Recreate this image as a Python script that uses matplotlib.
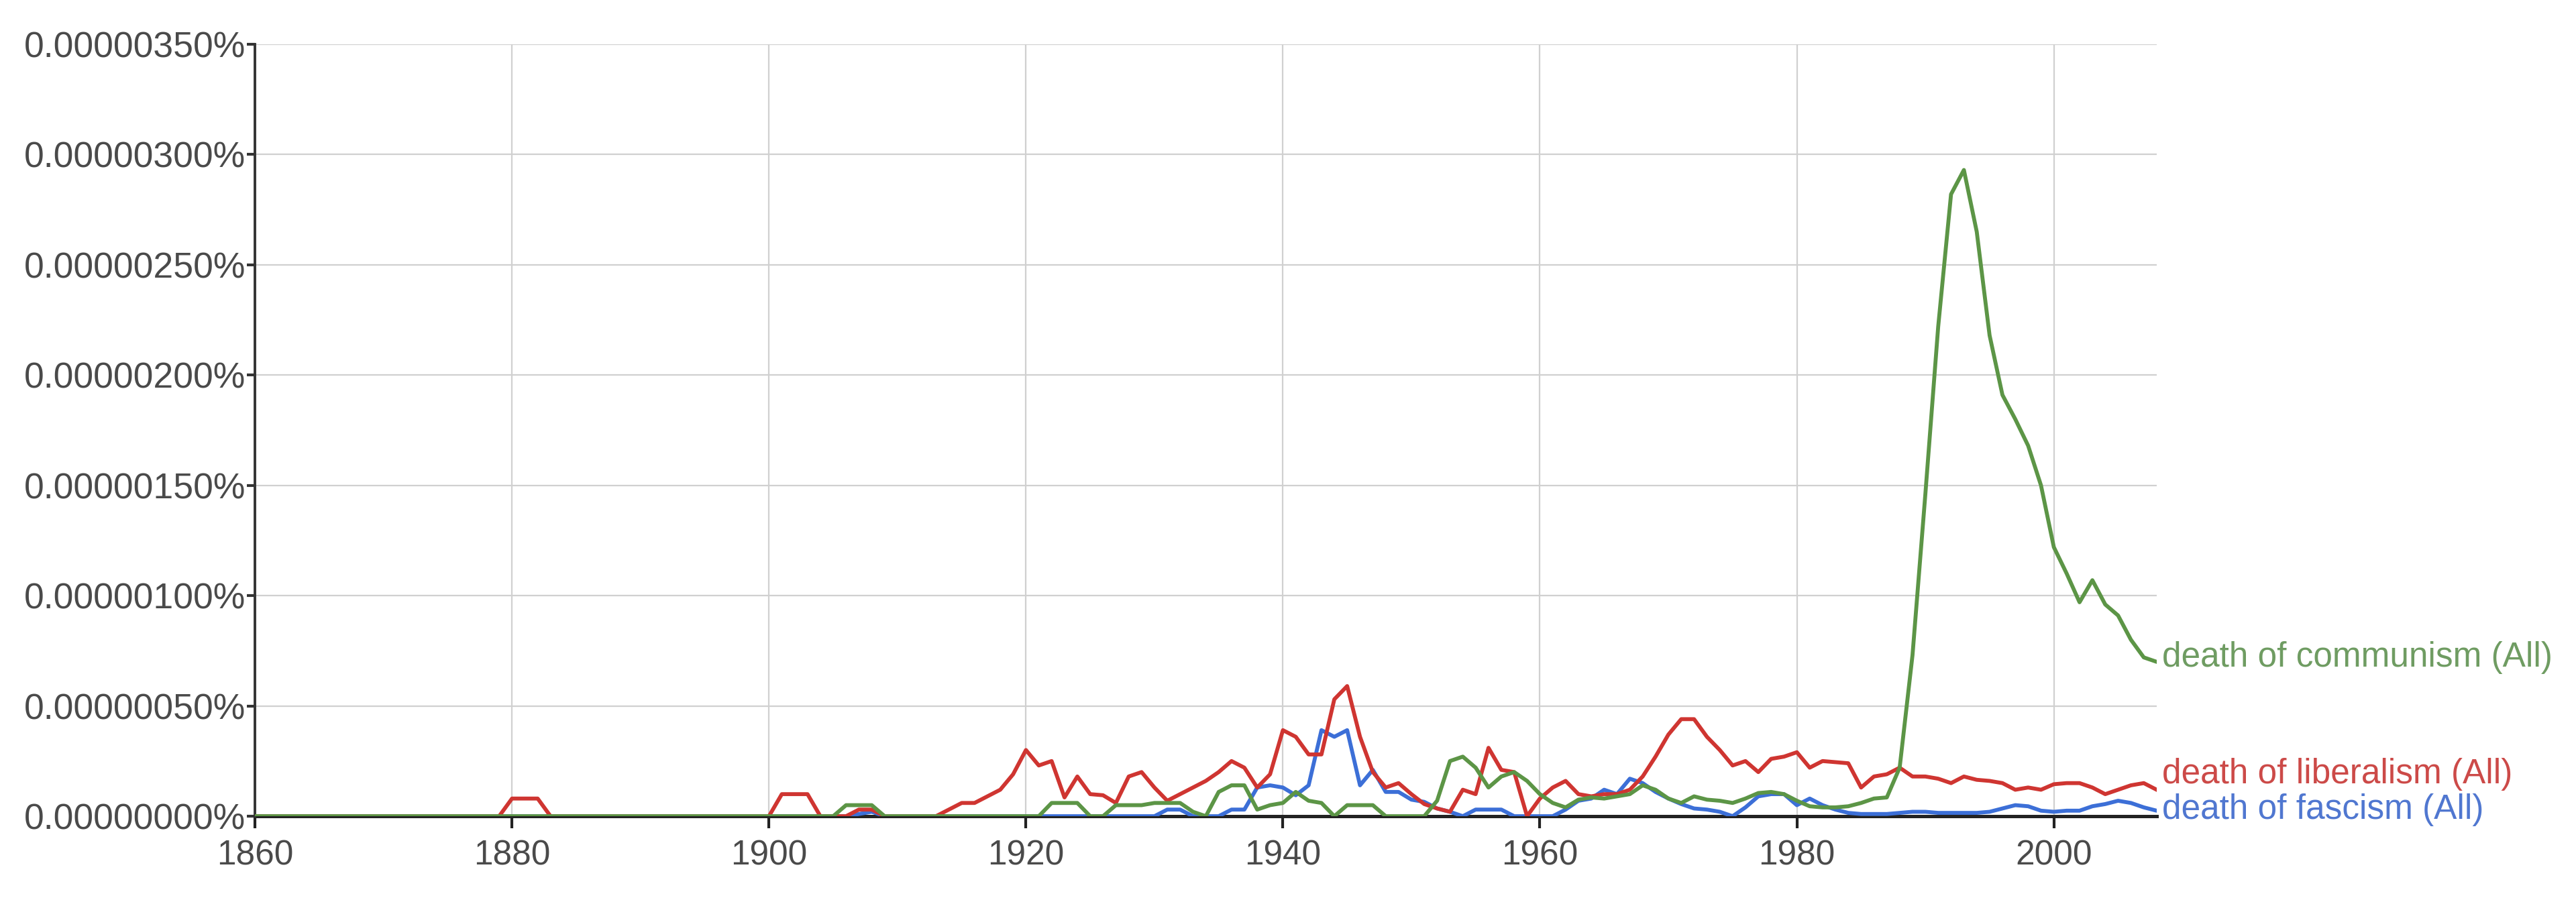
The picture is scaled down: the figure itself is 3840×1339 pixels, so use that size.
import matplotlib
matplotlib.use("Agg")
import matplotlib.pyplot as plt
from matplotlib.ticker import FuncFormatter

plt.rcParams["font.family"] = ["Liberation Sans", "DejaVu Sans"]

years = list(range(1860, 2009))

# values in units of 1e-6 percent, one per year 1860..2008
communism = [
    0, 0, 0, 0, 0, 0, 0, 0, 0, 0,
    0, 0, 0, 0, 0, 0, 0, 0, 0, 0,
    0, 0, 0, 0, 0, 0, 0, 0, 0, 0,
    0, 0, 0, 0, 0, 0, 0, 0, 0, 0,
    0, 0, 0, 0, 0, 0, 0.05, 0.05, 0.05, 0,
    0, 0, 0, 0, 0, 0, 0, 0, 0, 0,
    0, 0, 0.06, 0.06, 0.06, 0, 0, 0.05, 0.05, 0.05,
    0.06, 0.06, 0.06, 0.02, 0, 0.11, 0.14, 0.14, 0.03, 0.05,
    0.06, 0.11, 0.07, 0.06, 0, 0.05, 0.05, 0.05, 0, 0,
    0, 0, 0.07, 0.25, 0.27, 0.22, 0.13, 0.18, 0.20, 0.16,
    0.10, 0.06, 0.04, 0.075, 0.085, 0.08, 0.09, 0.10, 0.14, 0.12,
    0.08, 0.06, 0.09, 0.075, 0.07, 0.06, 0.08, 0.105, 0.11, 0.10,
    0.07, 0.045, 0.04, 0.04, 0.045, 0.06, 0.08, 0.085, 0.22, 0.73,
    1.46, 2.22, 2.82, 2.93, 2.65, 2.18, 1.91, 1.80, 1.68, 1.50,
    1.22, 1.10, 0.97, 1.07, 0.96, 0.91, 0.80, 0.72, 0.70,
]

liberalism = [
    0, 0, 0, 0, 0, 0, 0, 0, 0, 0,
    0, 0, 0, 0, 0, 0, 0, 0, 0, 0,
    0.08, 0.08, 0.08, 0, 0, 0, 0, 0, 0, 0,
    0, 0, 0, 0, 0, 0, 0, 0, 0, 0,
    0, 0.10, 0.10, 0.10, 0, 0, 0, 0.03, 0.03, 0,
    0, 0, 0, 0, 0.03, 0.06, 0.06, 0.09, 0.12, 0.19,
    0.30, 0.23, 0.25, 0.085, 0.18, 0.10, 0.095, 0.06, 0.18, 0.20,
    0.13, 0.07, 0.10, 0.13, 0.16, 0.20, 0.25, 0.22, 0.13, 0.19,
    0.39, 0.36, 0.28, 0.28, 0.53, 0.59, 0.36, 0.20, 0.13, 0.15,
    0.10, 0.055, 0.035, 0.02, 0.12, 0.10, 0.31, 0.21, 0.20, 0,
    0.08, 0.13, 0.16, 0.10, 0.09, 0.10, 0.10, 0.12, 0.18, 0.27,
    0.37, 0.44, 0.44, 0.36, 0.30, 0.23, 0.25, 0.20, 0.26, 0.27,
    0.29, 0.22, 0.25, 0.245, 0.24, 0.13, 0.18, 0.19, 0.22, 0.18,
    0.18, 0.17, 0.15, 0.18, 0.165, 0.16, 0.15, 0.12, 0.13, 0.12,
    0.145, 0.15, 0.15, 0.13, 0.10, 0.12, 0.14, 0.15, 0.12,
]

fascism = [
    0, 0, 0, 0, 0, 0, 0, 0, 0, 0,
    0, 0, 0, 0, 0, 0, 0, 0, 0, 0,
    0, 0, 0, 0, 0, 0, 0, 0, 0, 0,
    0, 0, 0, 0, 0, 0, 0, 0, 0, 0,
    0, 0, 0, 0, 0, 0, 0, 0.01, 0.02, 0,
    0, 0, 0, 0, 0, 0, 0, 0, 0, 0,
    0, 0, 0, 0, 0, 0, 0, 0, 0, 0,
    0, 0.03, 0.03, 0, 0, 0, 0.03, 0.03, 0.13, 0.14,
    0.13, 0.095, 0.14, 0.39, 0.36, 0.39, 0.14, 0.21, 0.11, 0.11,
    0.075, 0.065, 0.035, 0.02, 0, 0.03, 0.03, 0.03, 0, 0,
    0, 0, 0.03, 0.07, 0.08, 0.12, 0.10, 0.17, 0.15, 0.11,
    0.08, 0.055, 0.035, 0.03, 0.02, 0, 0.04, 0.09, 0.10, 0.10,
    0.05, 0.08, 0.05, 0.03, 0.015, 0.01, 0.01, 0.01, 0.015, 0.02,
    0.02, 0.015, 0.015, 0.015, 0.015, 0.02, 0.035, 0.05, 0.045, 0.025,
    0.02, 0.025, 0.025, 0.045, 0.055, 0.07, 0.06, 0.04, 0.025,
]

labels = ["death of communism (All)", "death of liberalism (All)", "death of fascism (All)"]
label_y = [0.72, 0.19, 0.03]
line_colors = ["#5c9546", "#cf3531", "#3c6fd7"]
text_colors = ["#6f9c62", "#cc4a48", "#5077d0"]

fig = plt.figure(figsize=(38.4, 13.39), dpi=100)
ax = fig.add_axes([0.099, 0.0911, 0.7382, 0.8596])

ax.plot(years, fascism, color=line_colors[2], lw=4.2, zorder=3)
ax.plot(years, liberalism, color=line_colors[1], lw=4.2, zorder=4)
ax.plot(years, communism, color=line_colors[0], lw=4.2, zorder=5)

ax.set_xlim(1860, 2008)
ax.set_ylim(0, 3.5)
ax.set_xticks(range(1860, 2001, 20))
ax.set_yticks([0, 0.5, 1.0, 1.5, 2.0, 2.5, 3.0, 3.5])
ax.yaxis.set_major_formatter(FuncFormatter(lambda v, p: f"{v * 1e-6:.8f}%"))

ax.grid(True, color="#d0d0d0", lw=1.6)
ax.set_axisbelow(True)
for s in ["top", "right"]:
    ax.spines[s].set_visible(False)
ax.spines["left"].set_color("#333333")
ax.spines["left"].set_linewidth(2.8)
ax.spines["bottom"].set_color("#222222")
ax.spines["bottom"].set_linewidth(3.6)
ax.spines["bottom"].set_zorder(2)

ax.tick_params(axis="y", length=9, width=3, color="#333333", pad=1,
               labelsize=38.5, labelcolor="#4a4a4a")
ax.tick_params(axis="x", length=13, width=3, color="#222222", pad=12,
               labelsize=37, labelcolor="#4a4a4a")

for lab, yv, c in zip(labels, label_y, text_colors):
    ax.text(2008.4, yv, lab, color=c, fontsize=37, va="center", ha="left",
            clip_on=False)

fig.savefig("out.png", dpi=100, facecolor="white")
